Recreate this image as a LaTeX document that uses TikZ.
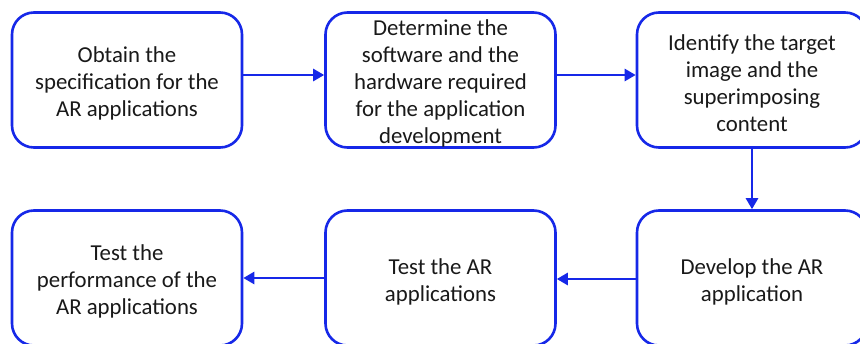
\documentclass[tikz,border=0pt]{standalone}
\usepackage{fontspec}
\setmainfont{Carlito}
\usetikzlibrary{arrows.meta}
\definecolor{flowblue}{RGB}{22,40,232}
\definecolor{txt}{RGB}{25,25,25}
\begin{document}
\begin{tikzpicture}[x=1pt,y=-1pt,
  stepbox/.style={draw=flowblue, line width=2.6pt, rounded corners=22pt, fill=white,
    minimum width=230pt, minimum height=135pt, inner sep=0pt},
  lbl/.style={text=txt, align=center, inner sep=0pt, font=\fontsize{22.8}{27}\selectfont},
  conn/.style={draw=flowblue, line width=2.6pt, -{Triangle[length=11pt,width=12pt]}}]
\useasboundingbox (0,0) rectangle (860,343);
\clip (0,0) rectangle (860,343);
\fill[white] (0,0) rectangle (860,343);
\node[stepbox] (a) at (127,80) {};
\node[stepbox] (b) at (440.5,80) {};
\node[stepbox] (c) at (752,80) {};
\node[stepbox] (d) at (752,278) {};
\node[stepbox] (e) at (440.5,278) {};
\node[stepbox] (f) at (127,278) {};
\node[lbl] (ta) at ([yshift=-3.5pt]a.center) {Obtain the\\specification for the\\AR applications};
\node[lbl] (tb) at ([yshift=-3.5pt]b.center) {Determine the\\software and the\\hardware required\\for the application\\development};
\node[lbl] (tc) at ([yshift=-3.5pt]c.center) {Identify the target\\image and the\\superimposing\\content};
\node[lbl] (td) at ([yshift=-3.5pt]d.center) {Develop the AR\\application};
\node[lbl] (te) at ([yshift=-3.5pt]e.center) {Test the AR\\applications};
\node[lbl] (tf) at ([yshift=-3.5pt]f.center) {Test the\\performance of the\\AR applications};
\draw[conn] (a.east |- 0,75) -- (b.west |- 0,75);
\draw[conn] (b.east |- 0,75) -- (c.west |- 0,75);
\draw[conn] (c.south) -- (d.north);
\draw[conn] (d.west |- 0,279) -- (e.east |- 0,279);
\draw[conn] (e.west |- 0,278) -- (f.east |- 0,278);
\end{tikzpicture}
\end{document}
